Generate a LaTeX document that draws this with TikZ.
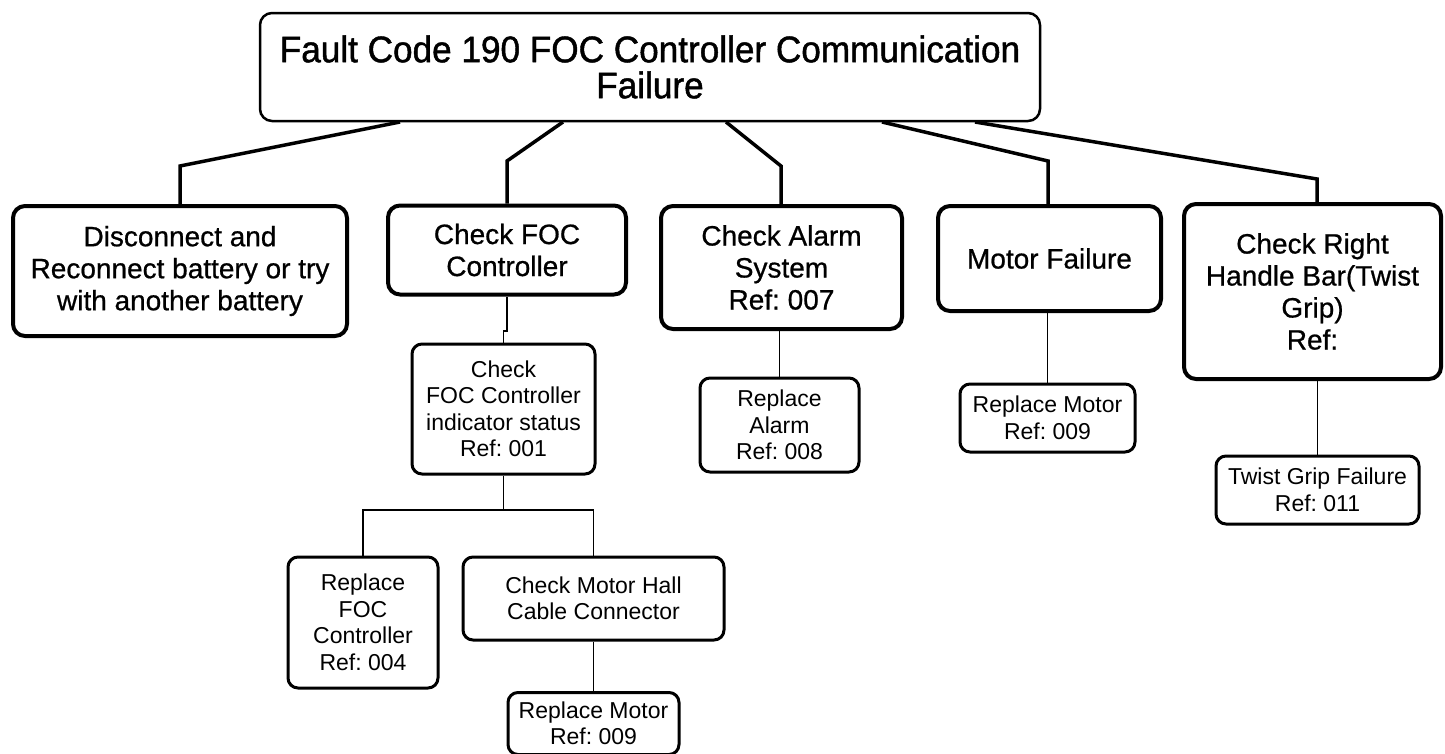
\documentclass[tikz,border=0pt]{standalone}
\usepackage{fontspec}
\setmainfont{Liberation Sans}
\newfontfamily\topfont[FakeBold=1.2,FakeStretch=0.95]{Liberation Sans}
\newfontfamily\lonefont[FakeBold=0.7]{Liberation Sans}
\frenchspacing
\begin{document}
\begin{tikzpicture}[x=1pt,y=-1pt,
  box/.style={draw, align=center, inner sep=2pt, fill=white},
  topbox/.style={box, rounded corners=12pt, line width=2.5pt, font=\topfont\fontsize{37}{36}\selectfont},
  lonebox/.style={box, rounded corners=12pt, line width=4pt, font=\lonefont\fontsize{28}{32}\selectfont},
  ltwobox/.style={box, rounded corners=10pt, line width=3pt, font=\fontsize{23}{26.5}\selectfont},
  thickconn/.style={line width=3.5pt},
  thinconn/.style={line width=1.2pt}]
\useasboundingbox (0,0) rectangle (1445,753);

% top
\node[topbox, minimum width=780pt, minimum height=108pt] (top) at (650,67)
  {Fault Code 190 FOC Controller Communication\\Failure};

% level 1
\node[lonebox, minimum width=334pt, minimum height=130pt] (b1) at (180,271)
  {Disconnect and\\Reconnect battery or try\\with another battery};
\node[lonebox, minimum width=238pt, minimum height=89pt] (b2) at (507,250)
  {Check FOC\\Controller};
\node[lonebox, minimum width=241pt, minimum height=123pt] (b3) at (781.5,267.5)
  {Check Alarm\\System\\Ref: 007};
\node[lonebox, minimum width=223pt, minimum height=105pt] (b4) at (1049.5,258.5)
  {Motor Failure};
\node[lonebox, minimum width=257pt, minimum height=175pt] (b5) at (1312.5,291.5)
  {Check Right\\Handle Bar(Twist\\Grip)\\Ref:};

% level 2
\node[ltwobox, minimum width=183pt, minimum height=130pt] (c1) at (503.5,409)
  {Check\\FOC Controller\\indicator status\\Ref: 001};
\node[ltwobox, minimum width=150pt, minimum height=131pt] (c2) at (363,622.5)
  {Replace\\FOC\\Controller\\Ref: 004};
\node[ltwobox, minimum width=261pt, minimum height=83pt] (c3) at (593.5,598.5)
  {Check Motor Hall\\Cable Connector};
\node[ltwobox, minimum width=171pt, minimum height=62pt, anchor=north] (c4) at (593.5,691)
  {Replace Motor\\Ref: 009};
\node[ltwobox, minimum width=159pt, minimum height=94pt] (d1) at (779.5,425)
  {Replace\\Alarm\\Ref: 008};
\node[ltwobox, minimum width=175pt, minimum height=68pt] (d2) at (1047.5,418)
  {Replace Motor\\Ref: 009};
\node[ltwobox, minimum width=203pt, minimum height=68pt] (e1) at (1317.5,490)
  {Twist Grip Failure\\Ref: 011};

% bend points
\coordinate (k1) at (180,166);
\coordinate (k2) at (507,161);
\coordinate (k3) at (781,166);
\coordinate (k4) at (1048,161);
\coordinate (k5) at (1317,179);
\coordinate (s1) at (400,122);
\coordinate (s2) at (563,122);
\coordinate (s3) at (726,122);
\coordinate (s4) at (882,122);
\coordinate (s5) at (975,122);

\draw[thickconn] (s1) -- (k1) -- (k1 |- b1.north);
\draw[thickconn] (s2) -- (k2) -- (k2 |- b2.north);
\draw[thickconn] (s3) -- (k3) -- (k3 |- b3.north);
\draw[thickconn] (s4) -- (k4) -- (k4 |- b4.north);
\draw[thickconn] (s5) -- (k5) -- (k5 |- b5.north);

% lower connectors
\coordinate (j1) at (507,331);
\draw[thinconn] (b2.south -| j1) -- (j1) -| (c1.north);
\coordinate (br) at (503.5,510);
\draw[thinconn] (c1.south) -- (br);
\draw[thinconn] (c2.north) |- (br) -| (c3.north);
\draw[thinconn] (c3.south) -- (c4.north);
\draw[thinconn] (b3.south -| d1.north) -- (d1.north);
\draw[thinconn] (b4.south -| d2.north) -- (d2.north);
\draw[thinconn] (b5.south -| e1.north) -- (e1.north);
\end{tikzpicture}
\end{document}
